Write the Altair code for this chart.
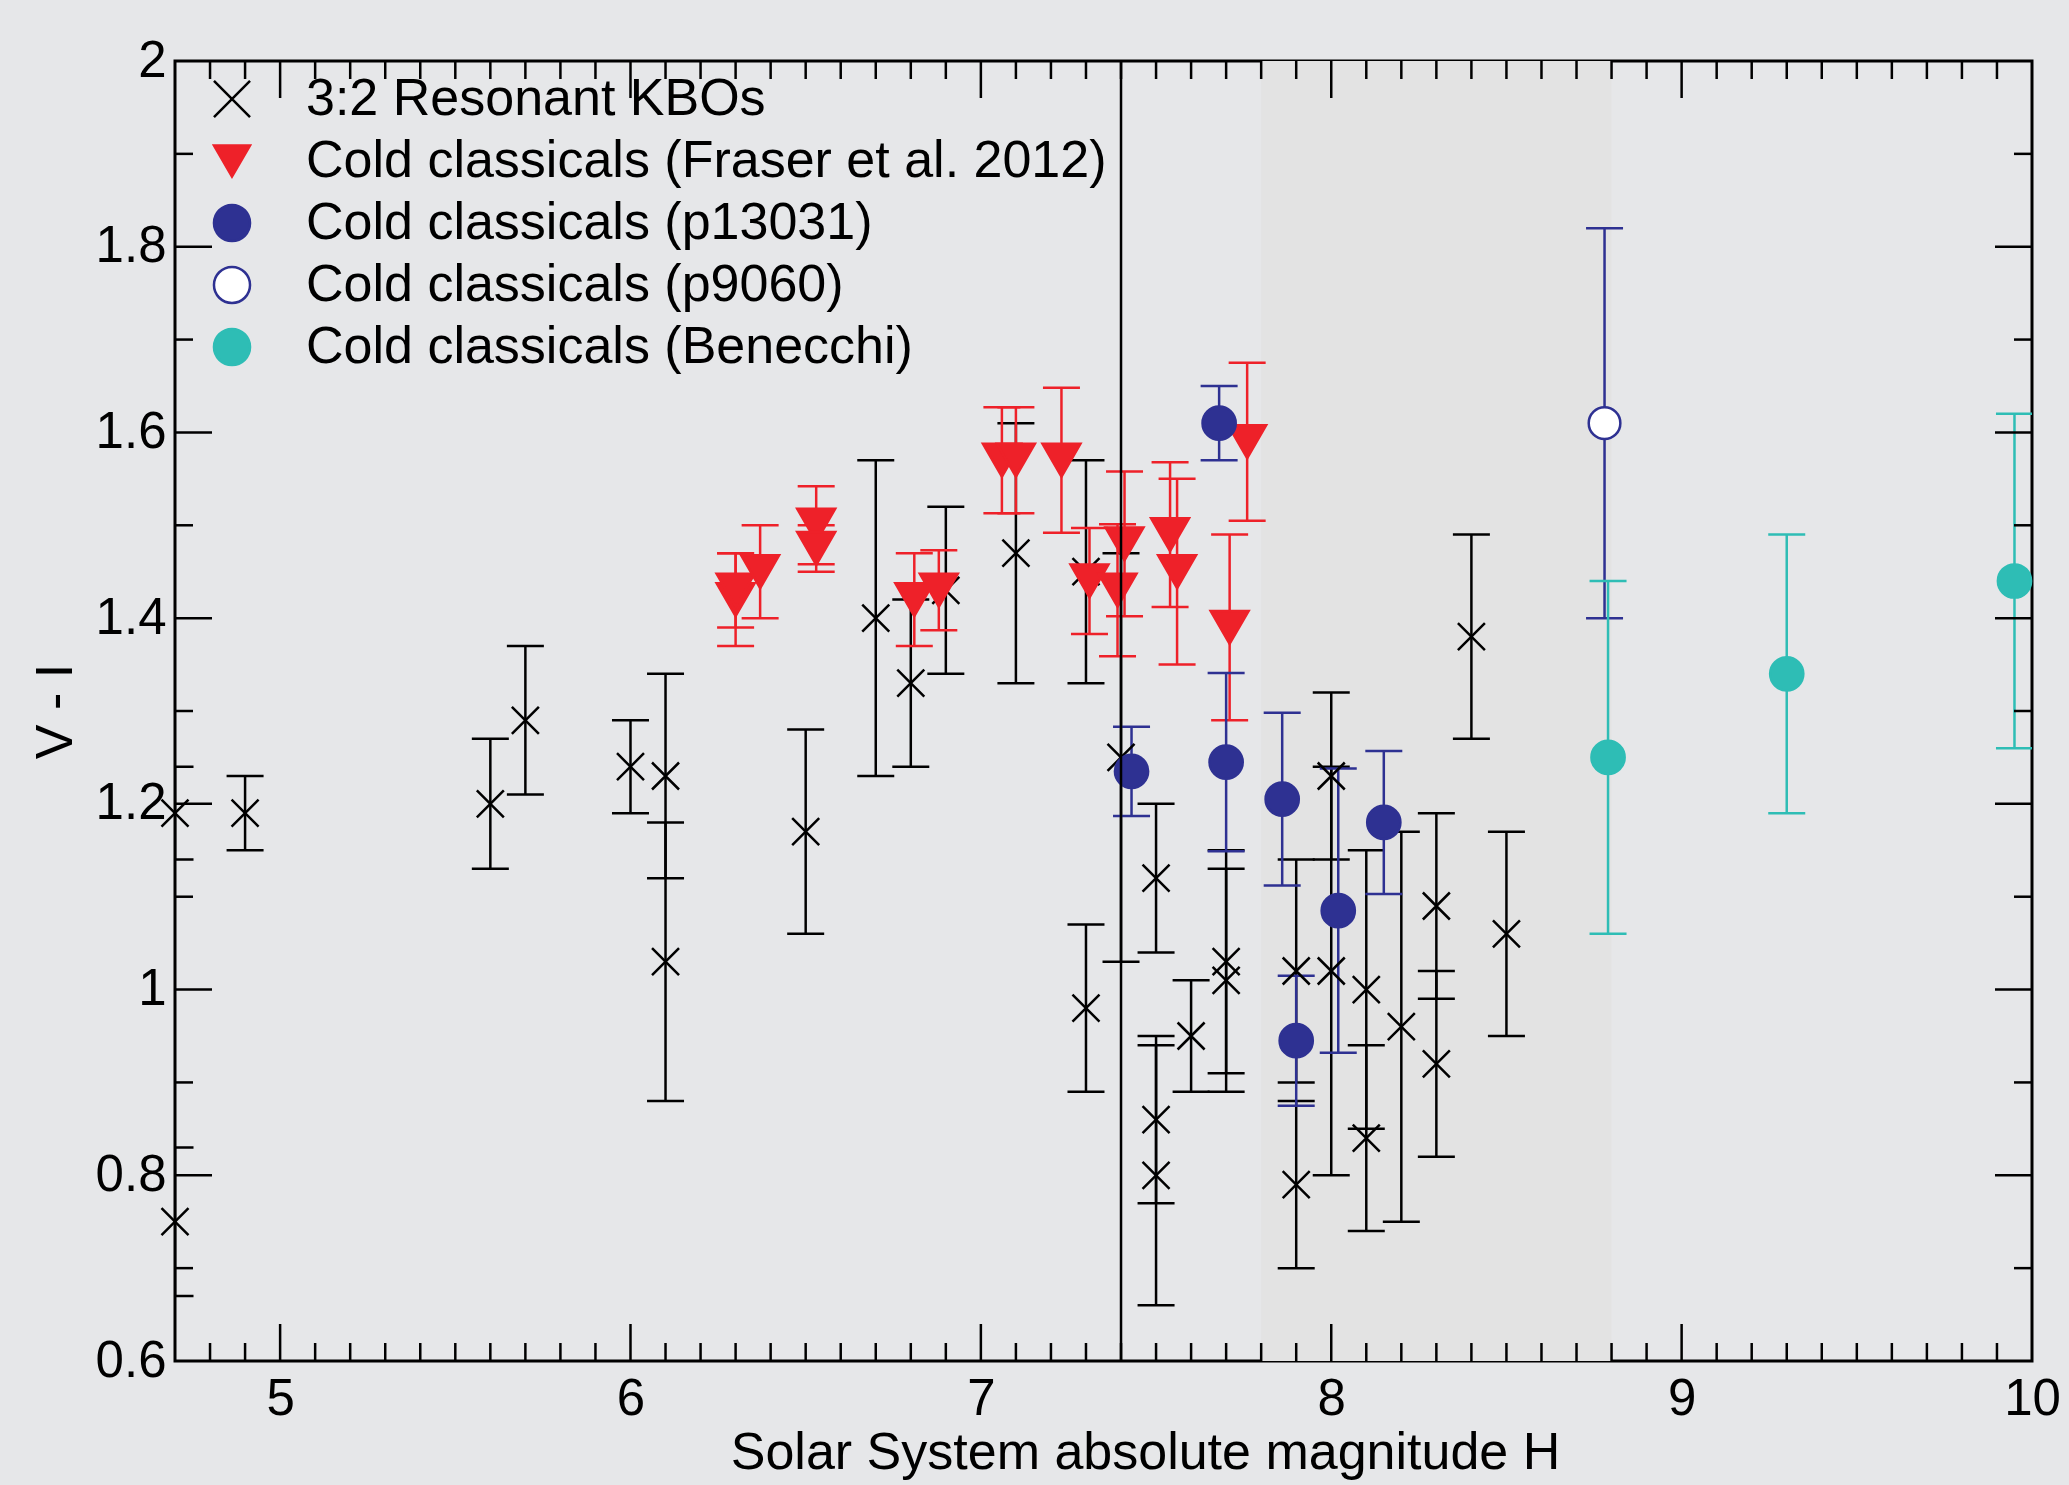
import altair as alt
import pandas as pd

# ---------------- data ----------------
series_names = [
    "3:2 Resonant KBOs",
    "Cold classicals (Fraser et al. 2012)",
    "Cold classicals (p13031)",
    "Cold classicals (p9060)",
    "Cold classicals (Benecchi)",
]

kbo_H = [4.7, 4.7, 4.9, 5.6, 5.7, 6.0, 6.1, 6.1, 6.5, 6.7, 6.8, 6.9, 7.1, 7.3, 7.3, 7.4,
         7.5, 7.5, 7.5, 7.6, 7.7, 7.7, 7.9, 7.9, 8.0, 8.0, 8.1, 8.1, 8.2, 8.3, 8.3, 8.4, 8.5]
kbo_VI = [1.19, 0.75, 1.19, 1.20, 1.29, 1.24, 1.23, 1.03, 1.17, 1.40, 1.33, 1.43, 1.47, 1.45, 0.98, 1.25,
          1.12, 0.86, 0.80, 0.95, 1.03, 1.01, 1.02, 0.79, 1.23, 1.02, 1.00, 0.84, 0.96, 1.09, 0.92, 1.38, 1.06]
kbo_err = [0.05, 0.08, 0.04, 0.07, 0.08, 0.05, 0.11, 0.15, 0.11, 0.17, 0.09, 0.09, 0.14, 0.12, 0.09, 0.22,
           0.08, 0.09, 0.14, 0.06, 0.12, 0.12, 0.12, 0.09, 0.09, 0.22, 0.15, 0.10, 0.21, 0.10, 0.10, 0.11, 0.11]

fraser_H = [6.30, 6.30, 6.37, 6.53, 6.53, 6.81, 6.88, 7.06, 7.10, 7.23, 7.31, 7.39, 7.41, 7.54, 7.56, 7.71, 7.76]
fraser_VI = [1.42, 1.43, 1.45, 1.50, 1.475, 1.42, 1.43, 1.57, 1.57, 1.57, 1.44, 1.43, 1.48, 1.49, 1.45, 1.39, 1.59]
fraser_err = [0.05, 0.04, 0.05, 0.042, 0.025, 0.05, 0.043, 0.057, 0.057, 0.078, 0.057, 0.071, 0.078, 0.078, 0.10, 0.10, 0.085]

p13031_H = [7.43, 7.68, 7.70, 7.86, 7.90, 8.02, 8.15]
p13031_VI = [1.235, 1.61, 1.245, 1.205, 0.945, 1.085, 1.18]
p13031_err = [0.048, 0.04, 0.096, 0.093, 0.07, 0.153, 0.077]

p9060_H = [8.78]
p9060_VI = [1.61]
p9060_err = [0.21]

benecchi_H = [8.79, 9.30, 9.95]
benecchi_VI = [1.25, 1.34, 1.44]
benecchi_err = [0.19, 0.15, 0.18]

band_start = [7.8]
band_end = [8.8]
divider_H = [7.4]

x_major = [5, 6, 7, 8, 9]
x_minor = [round(4.8 + 0.1 * i, 1) for i in range(52)]
x_minor = [v for v in x_minor if abs(v - round(v)) > 1e-6]
y_major = [0.8, 1.0, 1.2, 1.4, 1.6, 1.8]
y_minor = [0.7, 0.9, 1.1, 1.3, 1.5, 1.7, 1.9]
x_labels = [5, 6, 7, 8, 9, 10]
y_labels = [0.6, 0.8, 1.0, 1.2, 1.4, 1.6, 1.8, 2.0]

# ---------------- styling ----------------
W, H = 1857, 1300
FONT = "Liberation Sans"
RED = "#ee2129"
NAVY = "#2e3192"
CYAN = "#2ebdb5"
BG = "#e6e7e9"

X_PATH = "M-1,-1L1,1M-1,1L1,-1"
shape_range = [X_PATH, "triangle-down", "circle", "circle", "circle"]
fill_range = ["transparent", RED, NAVY, "white", CYAN]
stroke_range = ["black", RED, NAVY, NAVY, CYAN]
marker_sizes = [729, 1440, 1104, 1000, 1104]

rows = []
for name, hs, vs, es in [
    (series_names[0], kbo_H, kbo_VI, kbo_err),
    (series_names[1], fraser_H, fraser_VI, fraser_err),
    (series_names[2], p13031_H, p13031_VI, p13031_err),
    (series_names[3], p9060_H, p9060_VI, p9060_err),
    (series_names[4], benecchi_H, benecchi_VI, benecchi_err),
]:
    for h, v, e in zip(hs, vs, es):
        rows.append({"series": name, "H": h, "VI": v, "lo": v - e, "hi": v + e})
df = pd.DataFrame(rows)

x_scale = alt.Scale(domain=[4.7, 10], nice=False, zero=False)
y_scale = alt.Scale(domain=[0.6, 2.0], nice=False, zero=False)

x_axis = alt.Axis(
    title="Solar System absolute magnitude H", values=x_labels, format="d",
    labelPadding=13, labelFlush=False, labelOverlap=False,
    titleX=970, titleY=107, titleAlign="center", titleBaseline="alphabetic",
)
y_axis = alt.Axis(
    title="V - I", values=y_labels, format="~g",
    labelPadding=9, labelFlush=False, labelOverlap=False,
    titleX=-104, titleY=650, titleAlign="center", titleBaseline="alphabetic", titleAngle=270,
)


def X(field="H"):
    return alt.X(f"{field}:Q", scale=x_scale, axis=x_axis)


def Y(field="VI"):
    return alt.Y(f"{field}:Q", scale=y_scale, axis=y_axis)


legend = alt.Legend(
    title=None, orient="none", legendX=31, legendY=12, padding=0,
    labelFont=FONT, labelFontSize=52, labelColor="black", labelLimit=2000,
    labelOffset=48, rowPadding=10, symbolStrokeWidth=2.5, symbolOpacity=1,
    symbolSize=1300,
)

layers = []

band = alt.Chart(pd.DataFrame({"H": band_start, "H2": band_end})).mark_rect(
    color="#e3e3e3"
).encode(x=X("H"), x2="H2:Q", y=alt.value(0), y2=alt.value(H))
layers.append(band)

# error bars and caps, one colour per series
for name, col in zip(series_names, stroke_range):
    base = alt.Chart(df).transform_filter(alt.datum.series == name)
    layers.append(base.mark_rule(color=col, strokeWidth=2.5, clip=True).encode(
        x=X("H"), y=Y("lo"), y2="hi:Q"))
    for end in ["lo", "hi"]:
        layers.append(base.mark_rule(color=col, strokeWidth=2.5, clip=True,
                                     xOffset=-18.5, x2Offset=18.5).encode(
            x=X("H"), x2="H:Q", y=Y(end)))

# markers, one layer per series so each keeps its own size; legend shared
shape_scale = alt.Scale(domain=series_names, range=shape_range)
fill_scale = alt.Scale(domain=series_names, range=fill_range)
stroke_scale = alt.Scale(domain=series_names, range=stroke_range)
for name, sz in zip(series_names, marker_sizes):
    layers.append(alt.Chart(df).transform_filter(alt.datum.series == name).mark_point(
        filled=True, opacity=1, strokeWidth=2.5, size=sz
    ).encode(
        x=X("H"), y=Y("VI"),
        shape=alt.Shape("series:N", scale=shape_scale, legend=legend),
        fill=alt.Fill("series:N", scale=fill_scale, legend=legend),
        stroke=alt.Stroke("series:N", scale=stroke_scale, legend=legend),
    ))

divider = alt.Chart(pd.DataFrame({"H": divider_H})).mark_rule(color="black", strokeWidth=2.5).encode(
    x=X("H"), y=alt.value(0), y2=alt.value(H)
)
layers.append(divider)

tick_style = dict(color="black", strokeWidth=2.5)
xmaj = pd.DataFrame({"H": x_major})
xmin = pd.DataFrame({"H": x_minor})
ymaj = pd.DataFrame({"VI": y_major})
ymin = pd.DataFrame({"VI": y_minor})
for d, ln in [(xmaj, 37), (xmin, 18)]:
    layers.append(alt.Chart(d).mark_rule(**tick_style).encode(x=X("H"), y=alt.value(H), y2=alt.value(H - ln)))
    layers.append(alt.Chart(d).mark_rule(**tick_style).encode(x=X("H"), y=alt.value(0), y2=alt.value(ln)))
for d, ln in [(ymaj, 37), (ymin, 18)]:
    layers.append(alt.Chart(d).mark_rule(**tick_style).encode(y=Y("VI"), x=alt.value(0), x2=alt.value(ln)))
    layers.append(alt.Chart(d).mark_rule(**tick_style).encode(y=Y("VI"), x=alt.value(W), x2=alt.value(W - ln)))

chart = alt.layer(*layers).properties(
    width=W, height=H,
    autosize=alt.AutoSizeParams(type="none"),
    padding={"left": 175, "top": 61, "right": 37, "bottom": 124},
    background=BG,
).configure_view(
    stroke="black", strokeWidth=3
).configure_axis(
    domain=False, ticks=False, grid=False,
    labelFont=FONT, labelFontSize=51, labelColor="black",
    titleFont=FONT, titleFontSize=52, titleColor="black", titleFontWeight="normal",
)

chart.save("out.html", embed_options={"renderer": "svg", "actions": False})
